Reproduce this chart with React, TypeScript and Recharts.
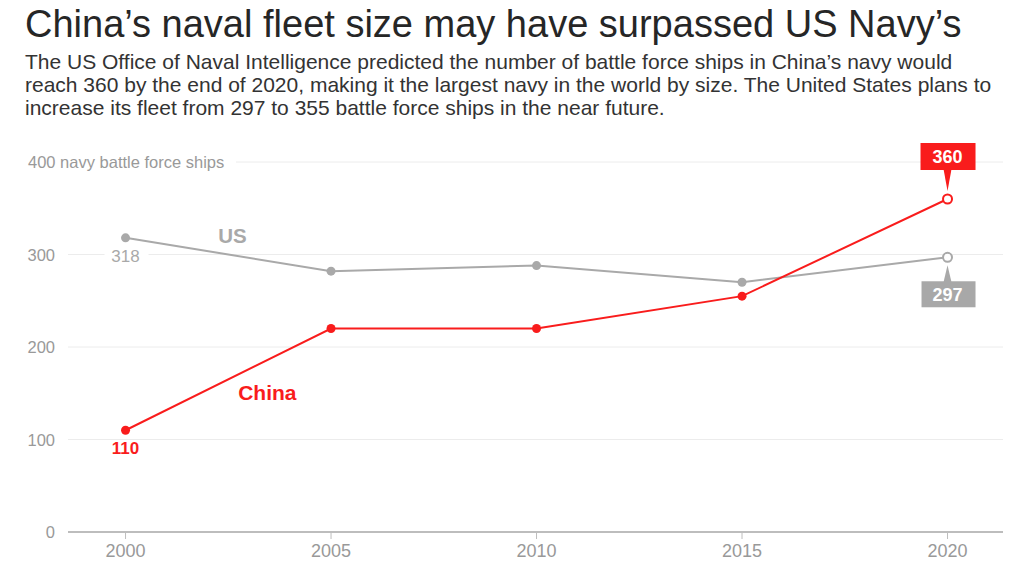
import React from 'react';
import { LineChart, Line, XAxis, YAxis, CartesianGrid, ReferenceDot } from 'recharts';

const years = [2000, 2005, 2010, 2015, 2020];
const usShips = [318, 282, 288, 270, 297];
const chinaShips = [110, 220, 220, 255, 360];
const yTicks = [0, 100, 200, 300, 400];
const xTicks = [2000, 2005, 2010, 2015, 2020];
const usLabelPos = { x: 2002.6, y: 320 };
const chinaLabelPos = { x: 2003.45, y: 151 };

const titleText = 'China\u2019s naval fleet size may have surpassed US Navy\u2019s';
const subtitleLines = [
  'The US Office of Naval Intelligence predicted the number of battle force ships in China\u2019s navy would',
  'reach 360 by the end of 2020, making it the largest navy in the world by size. The United States plans to',
  'increase its fleet from 297 to 355 battle force ships in the near future.',
];

const data = years.map((y, i) => ({ year: y, us: usShips[i], china: chinaShips[i] }));

const RED = '#f91c1c';
const GRAY = '#a9a9a9';
const FONT = '"Liberation Sans", Arial, Helvetica, sans-serif';

const YTick = (props: any) => {
  const { y, payload } = props;
  const v = payload.value;
  if (v === 400) {
    return (
      <g>
        <rect x={60} y={y - 11} width={176} height={22} fill="#fff" />
        <text x={28} y={y} dy={6} fill="#999" fontSize={16.5} fontFamily={FONT} textAnchor="start">
          400 navy battle force ships
        </text>
      </g>
    );
  }
  return (
    <text x={55} y={y} dy={6} fill="#999" fontSize={16.5} fontFamily={FONT} textAnchor="end">
      {v}
    </text>
  );
};

const makeDot = (color: string, series: 'us' | 'china') => (props: any) => {
  const { cx, cy, index } = props;
  const last = index === years.length - 1;
  const key = `${series}-${index}`;
  if (last) {
    const label = String(series === 'us' ? usShips[index] : chinaShips[index]);
    const boxFill = series === 'us' ? '#a8a8a8' : RED;
    if (series === 'china') {
      return (
        <g key={key}>
          <rect x={cx - 27} y={cy - 56} width={55} height={27} fill={boxFill} />
          <polygon points={`${cx - 4},${cy - 30} ${cx + 4},${cy - 30} ${cx},${cy - 8}`} fill={boxFill} />
          <text x={cx} y={cy - 42.5} dy={6.5} textAnchor="middle" fill="#fff" fontSize={18} fontWeight={700} fontFamily={FONT}>
            {label}
          </text>
          <circle cx={cx} cy={cy} r={4.5} fill="#fff" stroke={color} strokeWidth={2} />
        </g>
      );
    }
    return (
      <g key={key}>
        <rect x={cx - 26} y={cy + 24} width={54} height={26} fill={boxFill} />
        <polygon points={`${cx - 4},${cy + 25} ${cx + 4},${cy + 25} ${cx},${cy + 8}`} fill={boxFill} />
        <text x={cx} y={cy + 37} dy={6.5} textAnchor="middle" fill="#fff" fontSize={18} fontWeight={700} fontFamily={FONT}>
          {label}
        </text>
        <circle cx={cx} cy={cy} r={4.5} fill="#fff" stroke={color} strokeWidth={2} />
      </g>
    );
  }
  if (index === 0) {
    const label = String(series === 'us' ? usShips[0] : chinaShips[0]);
    return (
      <g key={key}>
        {series === 'us' && <rect x={cx - 21} y={cy + 9} width={44} height={20} fill="#fff" />}
        <text x={cx} y={cy + 18} dy={6} textAnchor="middle" fill={color} fontSize={17} fontWeight={series === 'china' ? 700 : 400} fontFamily={FONT}>
          {label}
        </text>
        <circle cx={cx} cy={cy} r={4.5} fill={color} />
      </g>
    );
  }
  return <circle key={key} cx={cx} cy={cy} r={4.5} fill={color} />;
};

export default function App() {
  return (
    <div style={{ position: 'absolute', left: 0, top: 0, width: 1028, height: 583, background: '#fff', fontFamily: FONT, overflow: 'hidden' }}>
      <LineChart
        width={1028}
        height={583}
        data={data}
        margin={{ top: 162, right: 25, bottom: 0, left: 28 }}
        style={{ position: 'absolute', left: 0, top: 0 }}
      >
        <CartesianGrid vertical={false} stroke="#ececec" strokeWidth={1} />
        <XAxis
          dataKey="year"
          type="number"
          domain={[1998.6, 2021.35]}
          ticks={xTicks}
          axisLine={{ stroke: '#bdbdbd', strokeWidth: 2 }}
          tickLine={{ stroke: '#bdbdbd' }}
          tickSize={7}
          tickMargin={5}
          tick={{ fill: '#999', fontSize: 18, fontFamily: FONT }}
          height={51}
        />
        <YAxis
          type="number"
          domain={[0, 400]}
          ticks={yTicks}
          width={40}
          axisLine={false}
          tickLine={false}
          tick={<YTick />}
          interval={0}
        />
        <Line
          dataKey="us"
          stroke={GRAY}
          strokeWidth={2}
          isAnimationActive={false}
          dot={makeDot(GRAY, 'us')}
          activeDot={false}
        />
        <Line
          dataKey="china"
          stroke={RED}
          strokeWidth={2}
          isAnimationActive={false}
          dot={makeDot(RED, 'china')}
          activeDot={false}
        />
        <ReferenceDot
          x={usLabelPos.x}
          y={usLabelPos.y}
          r={0}
          fill="none"
          stroke="none"
          label={{ value: 'US', position: 'center', fill: GRAY, fontSize: 20.5, fontWeight: 700, fontFamily: FONT }}
        />
        <ReferenceDot
          x={chinaLabelPos.x}
          y={chinaLabelPos.y}
          r={0}
          fill="none"
          stroke="none"
          label={{ value: 'China', position: 'center', fill: RED, fontSize: 21, fontWeight: 700, fontFamily: FONT }}
        />
      </LineChart>
      <div style={{ position: 'absolute', left: 25, top: 2, fontSize: 38, color: '#262626', whiteSpace: 'nowrap', lineHeight: '44px' }}>
        {titleText}
      </div>
      <div style={{ position: 'absolute', left: 25, top: 50, fontSize: 21, color: '#333', whiteSpace: 'nowrap', lineHeight: '23px' }}>
        {subtitleLines.map((l, i) => (
          <div key={i}>{l}</div>
        ))}
      </div>
    </div>
  );
}
